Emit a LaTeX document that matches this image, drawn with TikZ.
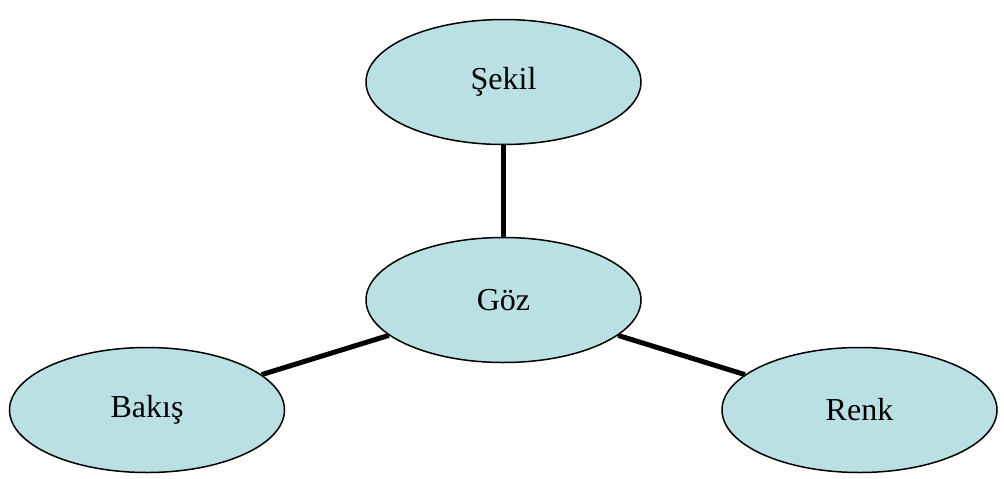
\documentclass[tikz,border=0pt]{standalone}
\usepackage{fontspec}
\setmainfont{Liberation Serif}
\usepackage{tikz}
\usetikzlibrary{shapes.geometric,positioning}
\usepackage{xcolor}
\definecolor{bubblefill}{RGB}{187,224,227}
\tikzstyle{bubble}=[ellipse, draw, line width=1.5pt, fill=bubblefill, minimum width=275pt, minimum height=125pt, inner sep=0pt, font=\fontsize{32}{38}\selectfont]
\tikzstyle{link}=[line width=5pt]

\begin{document}
\begin{tikzpicture}[x=1pt,y=-1pt,node distance=218pt]
        \useasboundingbox (0,0) rectangle (1004,479);
        \node [bubble] (goz) at (503.5,300) {Göz};
        \node [bubble] (sekil) [above of=goz] {Şekil};
        \node [bubble] (bakis) at (147,410) {Bakış};
        \node [bubble] (renk) at (859.5,410) {Renk};

        \draw[link] (sekil) -- (goz);
        \draw[link] (goz) -- (bakis);
        \draw[link] (goz) -- (renk);
        \end{tikzpicture}
\end{document}
